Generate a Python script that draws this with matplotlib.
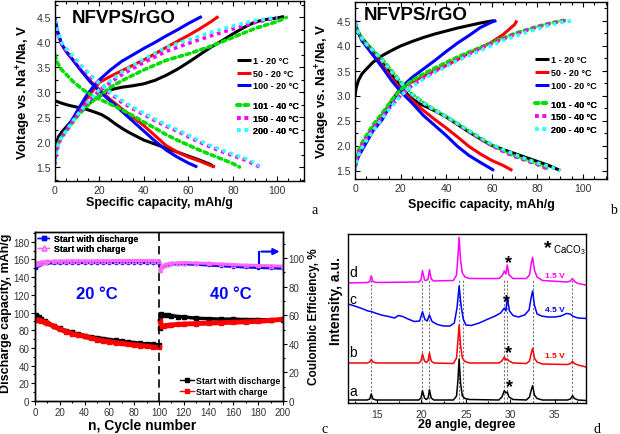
import matplotlib
matplotlib.use('Agg')
import matplotlib.pyplot as plt
from matplotlib.ticker import MultipleLocator
from matplotlib.lines import Line2D

plt.rcParams['font.family'] = ['Liberation Sans', 'DejaVu Sans']
plt.rcParams['mathtext.fontset'] = 'custom'
plt.rcParams['mathtext.rm'] = 'Liberation Sans'
plt.rcParams['mathtext.bf'] = 'Liberation Sans:bold'
plt.rcParams['mathtext.it'] = 'Liberation Sans:italic'

# ---------------- panel a : voltage profiles (start with discharge) ----------------
a_1_ch_cap = [0, 0.5, 1.5, 3, 5, 8, 10, 13, 16, 20, 23, 26, 30, 35, 40, 45, 50, 55, 60, 65, 70, 75, 80, 85, 90, 95, 100, 103]
a_1_ch_v = [1.75, 1.95, 2.1, 2.2, 2.3, 2.45, 2.55, 2.68, 2.8, 2.92, 3.0, 3.06, 3.1, 3.13, 3.17, 3.24, 3.34, 3.46, 3.6, 3.75, 3.9, 4.03, 4.17, 4.3, 4.41, 4.46, 4.49, 4.52]
a_1_dis_cap = [0, 3, 6, 10, 14, 18, 21, 24, 27, 30, 33, 36, 40, 45, 50, 55, 60, 65, 70, 71.5]
a_1_dis_v = [2.83, 2.78, 2.74, 2.7, 2.66, 2.6, 2.55, 2.47, 2.37, 2.28, 2.2, 2.13, 2.04, 1.96, 1.88, 1.8, 1.72, 1.64, 1.55, 1.5]
a_50_ch_cap = [0, 0.5, 1.5, 3, 5, 8, 11, 14, 17, 20, 25, 30, 35, 40, 45, 50, 55, 60, 65, 70, 73.5]
a_50_ch_v = [1.6, 1.85, 2.0, 2.12, 2.25, 2.45, 2.65, 2.85, 3.03, 3.2, 3.32, 3.43, 3.54, 3.65, 3.77, 3.9, 4.02, 4.14, 4.27, 4.41, 4.52]
a_50_dis_cap = [0, 1, 3, 5, 8, 12, 16, 20, 25, 30, 35, 40, 45, 50, 55, 60, 65, 70, 72]
a_50_dis_v = [4.45, 4.2, 3.95, 3.82, 3.65, 3.42, 3.22, 3.05, 2.85, 2.67, 2.5, 2.33, 2.13, 1.93, 1.8, 1.7, 1.62, 1.53, 1.5]
a_100_ch_cap = [0, 0.5, 1.5, 3, 5, 8, 11, 14, 17, 20, 25, 30, 35, 40, 45, 50, 55, 60, 66]
a_100_ch_v = [1.6, 1.85, 2.0, 2.12, 2.25, 2.47, 2.7, 2.92, 3.1, 3.25, 3.45, 3.62, 3.75, 3.88, 4.0, 4.13, 4.25, 4.38, 4.52]
a_100_dis_cap = [0, 1, 3, 5, 8, 12, 16, 20, 25, 30, 35, 40, 45, 50, 55, 60, 64]
a_100_dis_v = [4.5, 4.25, 3.97, 3.82, 3.65, 3.42, 3.2, 3.02, 2.82, 2.62, 2.42, 2.22, 2.02, 1.84, 1.7, 1.58, 1.5]
a_101_ch_cap = [0, 0.5, 1.5, 3, 5, 8, 11, 15, 20, 25, 30, 40, 50, 60, 70, 80, 90, 100, 104]
a_101_ch_v = [1.7, 1.85, 1.98, 2.1, 2.22, 2.4, 2.57, 2.75, 2.93, 3.1, 3.23, 3.45, 3.64, 3.77, 3.92, 4.1, 4.28, 4.42, 4.5]
a_101_dis_cap = [0, 1, 3, 5, 8, 12, 16, 20, 25, 30, 35, 40, 45, 50, 55, 60, 65, 70, 75, 80, 83]
a_101_dis_v = [3.75, 3.6, 3.45, 3.36, 3.22, 3.07, 2.95, 2.86, 2.76, 2.65, 2.53, 2.4, 2.28, 2.15, 2.04, 1.94, 1.84, 1.75, 1.66, 1.57, 1.5]
a_150_ch_cap = [0, 0.5, 1.5, 3, 5, 8, 11, 15, 20, 25, 30, 40, 50, 60, 70, 80, 90, 100]
a_150_ch_v = [1.55, 1.75, 1.95, 2.1, 2.22, 2.42, 2.6, 2.82, 3.03, 3.2, 3.35, 3.6, 3.82, 3.98, 4.13, 4.27, 4.4, 4.5]
a_150_dis_cap = [0, 1, 3, 5, 8, 12, 16, 20, 25, 30, 35, 40, 45, 50, 55, 60, 65, 70, 75, 80, 85, 90, 92]
a_150_dis_v = [4.45, 4.2, 3.97, 3.85, 3.7, 3.5, 3.32, 3.15, 2.97, 2.8, 2.67, 2.55, 2.43, 2.32, 2.22, 2.11, 2.0, 1.9, 1.81, 1.73, 1.65, 1.55, 1.5]
a_200_ch_cap = [0, 0.5, 1.5, 3, 5, 8, 11, 15, 20, 25, 30, 40, 50, 60, 70, 80, 90, 100]
a_200_ch_v = [1.6, 1.78, 1.97, 2.1, 2.22, 2.42, 2.6, 2.82, 3.05, 3.23, 3.4, 3.67, 3.9, 4.05, 4.2, 4.33, 4.44, 4.5]
a_200_dis_cap = [0, 1, 3, 5, 8, 12, 16, 20, 25, 30, 35, 40, 45, 50, 55, 60, 65, 70, 75, 80, 85, 90, 92]
a_200_dis_v = [4.45, 4.22, 4.0, 3.88, 3.73, 3.53, 3.35, 3.18, 3.0, 2.84, 2.7, 2.58, 2.46, 2.35, 2.25, 2.14, 2.03, 1.93, 1.84, 1.76, 1.68, 1.58, 1.52]

# ---------------- panel b : voltage profiles (start with charge) ----------------
b_1_ch_cap = [0, 0.5, 1.5, 3, 5, 8, 12, 16, 20, 25, 30, 35, 40, 45, 50, 55, 60, 61]
b_1_ch_v = [2.98, 3.15, 3.3, 3.43, 3.53, 3.67, 3.8, 3.9, 3.99, 4.08, 4.16, 4.23, 4.29, 4.35, 4.4, 4.45, 4.49, 4.5]
b_1_dis_cap = [0, 1, 3, 5, 8, 12, 16, 20, 24, 28, 32, 36, 40, 45, 50, 55, 60, 65, 70, 75, 80, 85, 90]
b_1_dis_v = [4.45, 4.3, 4.15, 4.05, 3.88, 3.65, 3.42, 3.18, 2.97, 2.84, 2.76, 2.67, 2.57, 2.42, 2.27, 2.13, 2.0, 1.92, 1.84, 1.76, 1.68, 1.6, 1.5]
b_50_ch_cap = [0, 0.5, 1.5, 3, 5, 8, 12, 16, 20, 25, 30, 35, 40, 45, 50, 55, 60, 65, 70, 71]
b_50_ch_v = [1.55, 1.68, 1.8, 1.95, 2.1, 2.35, 2.6, 2.9, 3.15, 3.27, 3.38, 3.5, 3.6, 3.72, 3.85, 3.95, 4.07, 4.22, 4.42, 4.5]
b_50_dis_cap = [0, 1, 3, 5, 8, 12, 16, 20, 25, 30, 35, 40, 45, 50, 55, 60, 65, 69]
b_50_dis_v = [4.45, 4.3, 4.12, 4.0, 3.83, 3.6, 3.35, 3.12, 2.9, 2.7, 2.52, 2.35, 2.17, 1.98, 1.83, 1.7, 1.6, 1.5]
b_100_ch_cap = [0, 0.5, 1.5, 3, 5, 8, 12, 16, 20, 25, 30, 35, 40, 45, 50, 55, 60, 62]
b_100_ch_v = [1.5, 1.65, 1.78, 1.9, 2.06, 2.3, 2.52, 2.85, 3.15, 3.36, 3.53, 3.7, 3.88, 4.05, 4.2, 4.36, 4.47, 4.5]
b_100_dis_cap = [0, 1, 3, 5, 8, 12, 16, 20, 25, 30, 35, 40, 45, 50, 55, 58, 61]
b_100_dis_v = [4.5, 4.3, 4.1, 3.98, 3.8, 3.56, 3.3, 3.08, 2.85, 2.6, 2.4, 2.2, 1.98, 1.8, 1.66, 1.58, 1.5]
b_40c_ch_cap = [0, 0.5, 1.5, 3, 5, 8, 12, 16, 20, 25, 30, 35, 40, 45, 50, 55, 60, 65, 70, 75, 80, 85, 90, 92]
b_101_ch_v = [1.6, 1.75, 1.9, 2.05, 2.2, 2.42, 2.65, 2.9, 3.12, 3.3, 3.43, 3.55, 3.66, 3.77, 3.87, 3.96, 4.06, 4.15, 4.24, 4.31, 4.38, 4.44, 4.49, 4.5]
b_150_ch_v = [1.55, 1.7, 1.85, 2.0, 2.15, 2.35, 2.58, 2.8, 3.0, 3.2, 3.35, 3.48, 3.6, 3.72, 3.83, 3.94, 4.04, 4.13, 4.22, 4.3, 4.37, 4.43, 4.48, 4.5]
b_200_ch_cap = [0, 0.5, 1.5, 3, 5, 8, 12, 16, 20, 25, 30, 35, 40, 45, 50, 55, 60, 65, 70, 75, 80, 85, 90, 96]
b_200_ch_v = [1.5, 1.65, 1.8, 1.95, 2.1, 2.3, 2.55, 2.78, 3.0, 3.18, 3.33, 3.46, 3.58, 3.7, 3.8, 3.9, 4.0, 4.1, 4.18, 4.26, 4.33, 4.4, 4.46, 4.5]
b_40c_dis_cap = [0, 1, 3, 5, 8, 12, 16, 20, 25, 30, 35, 40, 45, 50, 55, 60, 65, 70, 75, 80, 85]
b_101_dis_v = [4.45, 4.3, 4.15, 4.03, 3.9, 3.72, 3.5, 3.27, 3.03, 2.86, 2.71, 2.58, 2.44, 2.29, 2.14, 2.01, 1.89, 1.79, 1.71, 1.63, 1.53]
b_150_dis_v = [4.45, 4.3, 4.15, 4.03, 3.9, 3.7, 3.48, 3.25, 3.02, 2.85, 2.7, 2.57, 2.43, 2.28, 2.13, 2.0, 1.88, 1.78, 1.7, 1.62, 1.52]
b_200_dis_cap = [0, 1, 3, 5, 8, 12, 16, 20, 25, 30, 35, 40, 45, 50, 55, 60, 65, 70, 75, 80, 85, 90]
b_200_dis_v = [4.45, 4.3, 4.15, 4.03, 3.9, 3.7, 3.48, 3.26, 3.03, 2.86, 2.71, 2.58, 2.44, 2.3, 2.16, 2.03, 1.92, 1.82, 1.73, 1.65, 1.58, 1.5]

# ---------------- panel c : cycling ----------------
cyc_20 = [1, 2, 3, 5, 8, 10, 15, 20, 25, 30, 35, 40, 45, 50, 55, 60, 65, 70, 75, 80, 85, 90, 95, 100]
cap_dis_start_20 = [97, 95.5, 94.5, 92.5, 90, 88.5, 85, 82, 79.5, 77.5, 75.5, 74, 72.5, 71.5, 70.5, 69.5, 68.5, 67.5, 66.5, 66, 65, 64.5, 64, 63.5]
cap_ch_start_20 = [92, 91.5, 91, 90.5, 89, 88, 84.5, 81, 78.5, 76, 74.5, 73, 71, 69.5, 68, 67, 66, 65, 64, 63.5, 62.5, 62, 61, 60.5]
ce_dis_start_20 = [93, 94.5, 95.3, 96, 96.3, 96.4, 96.5, 96.6, 96.7, 96.7, 96.7, 96.7, 96.7, 96.7, 96.7, 96.7, 96.7, 96.7, 96.7, 96.7, 96.7, 96.7, 96.6, 96.5]
ce_ch_start_20 = [95.5, 96.3, 96.8, 97.2, 97.5, 97.6, 97.8, 97.9, 98, 98, 98, 98, 98, 98.1, 98.1, 98.1, 98.2, 98.2, 98.2, 98.2, 98.2, 98.2, 98.1, 98]
cyc_40 = [101, 102, 104, 107, 110, 115, 120, 130, 140, 150, 160, 170, 180, 190, 200]
cap_dis_start_40 = [83, 98, 97.5, 97, 96.5, 95.5, 95, 93.5, 93, 92.5, 92.5, 92, 92, 91.5, 91.5]
cap_ch_start_40 = [90, 84.5, 85, 85.5, 86, 86.5, 87, 87.5, 88, 88.5, 89, 89.5, 90, 91, 92.5]
ce_dis_start_40 = [92, 93.5, 94.5, 95.2, 95.6, 95.8, 95.8, 95.5, 95, 94.5, 94, 93.6, 93.3, 93, 92.8]
ce_ch_start_40 = [91.5, 93.5, 95, 96, 96.3, 96.6, 96.8, 96.5, 96.2, 95.8, 95.4, 95, 94.8, 94.5, 94.3]

# ---------------- panel d : XRD ----------------
tt = [11.75, 13.9, 14.2, 14.36, 14.55, 14.9, 19.7, 19.95, 20.12, 20.35, 20.55, 20.75, 20.9, 21.1, 21.4,
      23.6, 23.95, 24.1, 24.24, 24.4, 24.6, 24.9, 25.4, 28.7, 29.05, 29.32, 29.5, 29.65, 29.85, 30.3,
      31.8, 32.15, 32.35, 32.5, 32.7, 33.0, 33.6, 36.4, 36.75, 36.98, 37.2, 37.6, 38.5]
xrd_a = [3, 3, 4, 9, 4, 3, 3, 5, 12.3, 5, 3.5, 5, 13.3, 5, 3,
         3, 7, 22, 44, 20, 7, 4.5, 3.5, 3, 6, 12.3, 10, 11, 6, 3.5,
         3, 6, 13, 17.3, 8, 4.5, 3, 3, 4, 7.3, 4.5, 3, 2.5]
xrd_b = [40, 40, 41, 43.5, 41, 40, 40, 42, 49, 42, 40.5, 42, 50, 42, 40,
         39.5, 45, 62, 78, 58, 45, 41.5, 40, 40, 42, 46, 43, 44, 42, 40,
         39.5, 42, 50, 54.7, 45, 41, 39, 38.5, 39.5, 41.5, 39.5, 38, 36]
xrd_d = [120, 120.5, 121.5, 127.3, 121.5, 120.5, 121, 123, 132.3, 123, 122.5, 124, 133.3, 124, 122,
         122.5, 128, 146, 165.7, 143, 130, 126, 124.5, 124.5, 127, 132, 129, 138, 128, 124.5,
         124.5, 128, 140, 145.7, 133, 126, 122.5, 121, 122, 124.5, 121.5, 119.5, 118]
tt_c = [11.75, 12.5, 13.3, 14.0, 14.36, 14.8, 15.5, 16.3, 17.0, 17.4, 17.9, 18.5, 19.2, 19.8, 20.12, 20.4, 20.65, 20.9,
        21.2, 21.8, 22.5, 23.2, 23.7, 24.0, 24.24, 24.45, 24.7, 25.0, 25.6, 26.5, 27.5, 28.3, 28.9, 29.32, 29.5, 29.65,
        29.9, 30.3, 30.9, 31.6, 32.1, 32.35, 32.5, 32.7, 33.0, 33.5, 34.2, 35.0, 35.7, 36.3, 36.7, 37.1, 37.6, 38.5]
xrd_c = [99, 97, 94.5, 92, 91.5, 90, 88, 86.5, 85, 87.5, 86.5, 84, 81.5, 82, 91.3, 83.5, 82, 88,
         81.5, 78.5, 77, 77, 80, 95, 117, 98, 84, 78, 77.5, 80, 84, 87, 90, 95, 92, 105.7,
         92, 87.5, 86, 88, 93, 106, 112, 98, 89, 87, 86, 86, 87, 89.5, 89, 86.5, 85, 84.5]
peak_lines = [14.36, 20.12, 20.9, 24.24, 24.72, 29.32, 29.65, 32.5, 36.98]

labels_20 = ['1 - 20 °C', '50 - 20 °C', '100 - 20 °C']
labels_40 = ['101 - 40 °C', '150 - 40 °C', '200 - 40 °C']

solid = dict(lw=2.2, solid_capstyle='butt')
dotted = dict(lw=2.6, ls=(0, (1, 1.1)))
styles = {
    '1 - 20 °C': dict(color='k', **solid),
    '50 - 20 °C': dict(color='#ff0000', **solid),
    '100 - 20 °C': dict(color='#0000ff', **solid),
    '101 - 40 °C': dict(color='#00dd00', dash_capstyle='round', **dotted),
    '150 - 40 °C': dict(color='#ff00ff', **dotted),
    '200 - 40 °C': dict(color='#33ffff', **dotted),
}

fig = plt.figure(figsize=(6.2, 4.35), dpi=100)


def voltage_panel(ax, curves, title_x, title_y, leg_x, leg1_y, leg2_y, ylim, xlim):
    for name in labels_20 + labels_40:
        cap_ch, v_ch, cap_dis, v_dis = curves[name]
        ax.plot(cap_ch, v_ch, **styles[name])
        ax.plot(cap_dis, v_dis, **styles[name])
    ax.set_xlim(*xlim)
    ax.set_ylim(*ylim)
    ax.xaxis.set_major_locator(MultipleLocator(20))
    ax.xaxis.set_minor_locator(MultipleLocator(5))
    ax.yaxis.set_major_locator(MultipleLocator(0.5))
    ax.yaxis.set_minor_locator(MultipleLocator(0.25))
    ax.tick_params(which='both', direction='in', top=True, right=True, labelsize=7.5,
                   labelcolor='#333333', width=0.8, pad=3)
    ax.tick_params(which='major', length=3.5)
    ax.tick_params(which='minor', length=2)
    ax.set_xlabel('Specific capacity, mAh/g', fontsize=9, fontweight='bold')
    ax.set_ylabel('Voltage vs. Na$^{\\mathbf{+}}$/Na, V', fontsize=9.5, fontweight='bold')
    ax.text(title_x, title_y, 'NFVPS/rGO', transform=ax.transAxes, fontsize=13.5,
            fontweight='bold', ha='left', va='center')
    for labs, ly in ((labels_20, leg1_y), (labels_40, leg2_y)):
        hs = [Line2D([], [], **styles[n]) for n in labs]
        leg = ax.legend(hs, labs, loc='upper left', bbox_to_anchor=(leg_x, ly), frameon=False,
                        borderpad=0, borderaxespad=0, handlelength=1.6, handletextpad=0.15,
                        labelspacing=0.4, prop=dict(size=6.5, weight='bold'))
        ax.add_artist(leg)
    for s in ax.spines.values():
        s.set_linewidth(1)


# panel a
ax_a = fig.add_axes([55 / 620, 1 - 182 / 435, 249 / 620, 180 / 435])
curves_a = {
    '1 - 20 °C': (a_1_ch_cap, a_1_ch_v, a_1_dis_cap, a_1_dis_v),
    '50 - 20 °C': (a_50_ch_cap, a_50_ch_v, a_50_dis_cap, a_50_dis_v),
    '100 - 20 °C': (a_100_ch_cap, a_100_ch_v, a_100_dis_cap, a_100_dis_v),
    '101 - 40 °C': (a_101_ch_cap, a_101_ch_v, a_101_dis_cap, a_101_dis_v),
    '150 - 40 °C': (a_150_ch_cap, a_150_ch_v, a_150_dis_cap, a_150_dis_v),
    '200 - 40 °C': (a_200_ch_cap, a_200_ch_v, a_200_dis_cap, a_200_dis_v),
}
voltage_panel(ax_a, curves_a, 0.068, 0.91, 0.73, 0.694, 0.444, (1.22, 4.83), (0, 112))
ax_a.xaxis.set_label_coords(0.42, -0.085)
ax_a.yaxis.set_label_coords(-0.09, 0.5)

# panel b
ax_b = fig.add_axes([355 / 620, 1 - 180 / 435, 252 / 620, 177 / 435])
curves_b = {
    '1 - 20 °C': (b_1_ch_cap, b_1_ch_v, b_1_dis_cap, b_1_dis_v),
    '50 - 20 °C': (b_50_ch_cap, b_50_ch_v, b_50_dis_cap, b_50_dis_v),
    '100 - 20 °C': (b_100_ch_cap, b_100_ch_v, b_100_dis_cap, b_100_dis_v),
    '101 - 40 °C': (b_40c_ch_cap, b_101_ch_v, b_40c_dis_cap, b_101_dis_v),
    '150 - 40 °C': (b_40c_ch_cap, b_150_ch_v, b_40c_dis_cap, b_150_dis_v),
    '200 - 40 °C': (b_200_ch_cap, b_200_ch_v, b_200_dis_cap, b_200_dis_v),
}
voltage_panel(ax_b, curves_b, 0.033, 0.932, 0.714, 0.698, 0.449, (1.33, 4.87), (0, 110.5))
ax_b.xaxis.set_label_coords(0.5, -0.11)
ax_b.yaxis.set_label_coords(-0.092, 0.5)

# panel c
ax_c = fig.add_axes([35 / 620, 1 - 402 / 435, 248 / 620, 169 / 435])
ax_c2 = ax_c.twinx()
ax_c.plot(cyc_20, cap_dis_start_20, color='k', marker='s', ms=2.5, lw=2.5)
ax_c.plot(cyc_40, cap_dis_start_40, color='k', marker='s', ms=2.5, lw=2.5)
ax_c.plot(cyc_20, cap_ch_start_20, color='#ff0000', marker='s', ms=3, lw=3.5)
ax_c.plot(cyc_40, cap_ch_start_40, color='#ff0000', marker='s', ms=3, lw=3.5)
ax_c2.plot(cyc_20, ce_dis_start_20, color='#0000ff', marker='s', ms=2, lw=2)
ax_c2.plot(cyc_40, ce_dis_start_40, color='#0000ff', marker='s', ms=2, lw=2)
ax_c2.plot(cyc_20, ce_ch_start_20, color='#ff66ff', marker='^', ms=3, mfc='none', lw=2.2)
ax_c2.plot(cyc_40, ce_ch_start_40, color='#ff66ff', marker='^', ms=3, mfc='none', lw=2.2)
ax_c.axvline(100, color='k', lw=1.2, ls=(0, (5, 3)))
ax_c.set_xlim(0, 200)
ax_c.set_ylim(0, 191)
ax_c2.set_ylim(0, 118.2)
ax_c.xaxis.set_major_locator(MultipleLocator(20))
ax_c.xaxis.set_minor_locator(MultipleLocator(10))
ax_c.yaxis.set_major_locator(MultipleLocator(20))
ax_c.yaxis.set_minor_locator(MultipleLocator(10))
ax_c2.yaxis.set_major_locator(MultipleLocator(20))
ax_c2.yaxis.set_minor_locator(MultipleLocator(10))
for axx in (ax_c, ax_c2):
    axx.tick_params(which='both', direction='out', labelsize=7, labelcolor='#333333', width=0.8, pad=1)
    axx.tick_params(which='major', length=3)
    axx.tick_params(which='minor', length=1.5)
    for s in axx.spines.values():
        s.set_linewidth(1)
ax_c.set_xlabel('n, Cycle number', fontsize=10, fontweight='bold')
ax_c.set_ylabel('Discharge capacity, mAh/g', fontsize=9, fontweight='bold')
ax_c.xaxis.set_label_coords(0.43, -0.1)
ax_c.yaxis.set_label_coords(-0.092, 0.525)
fig.text(314 / 620, 1 - 317 / 435, 'Coulombic Efficiency, %', rotation=90, ha='center', va='center',
         fontsize=8.5, fontweight='bold')
ax_c.text(50, 121, '20 °C', color='#0000ff', fontsize=12, fontweight='bold', ha='center', va='center')
ax_c.text(158, 121, '40 °C', color='#0000ff', fontsize=12, fontweight='bold', ha='center', va='center')
ax_c2.plot([181, 181], [96.8, 104.5], color='#0000ff', lw=1.5)
ax_c2.annotate('', xy=(199.5, 104.5), xytext=(180.3, 104.5),
               arrowprops=dict(arrowstyle='-|>', color='#0000ff', lw=1.5, mutation_scale=9))
top_h = [Line2D([], [], color='#0000ff', marker='s', ms=3, lw=1, ls='--'),
         Line2D([], [], color='#ff66ff', marker='^', ms=3.5, mfc='none', lw=1, ls='--')]
leg_top = ax_c.legend(top_h, ['Start with discharge', 'Start with charge'], loc='upper left',
                      bbox_to_anchor=(0.01, 0.99), frameon=False, borderpad=0, borderaxespad=0,
                      handlelength=1.6, handletextpad=0.3, labelspacing=0.2, prop=dict(size=6.3, weight='bold'))
ax_c.add_artist(leg_top)
bot_h = [Line2D([], [], color='k', marker='s', ms=3, lw=1),
         Line2D([], [], color='#ff0000', marker='s', ms=3, lw=1)]
ax_c2.legend(bot_h, ['Start with discharge', 'Start with charge'], loc='lower right',
             bbox_to_anchor=(0.99, 0.03), frameon=False, borderpad=0, borderaxespad=0,
             handlelength=1.6, handletextpad=0.3, labelspacing=0.2, prop=dict(size=6.3, weight='bold'))

# panel d
ax_d = fig.add_axes([348 / 620, 1 - 404 / 435, 238 / 620, 169 / 435])
ax_d.vlines(peak_lines, 0, 123, colors='#777777', lw=0.8, linestyles=(0, (2, 1.5)))
ax_d.plot(tt, xrd_a, color='k', lw=1.1)
ax_d.plot(tt, xrd_b, color='#ff0000', lw=1.1)
ax_d.plot(tt_c, xrd_c, color='#0000ff', lw=1.1)
ax_d.plot(tt, xrd_d, color='#ff00ff', lw=1.1)
ax_d.set_xlim(11.75, 38.5)
ax_d.set_ylim(0, 169)
ax_d.set_yticks([])
ax_d.xaxis.set_major_locator(MultipleLocator(5))
ax_d.xaxis.set_minor_locator(MultipleLocator(2.5))
ax_d.tick_params(which='both', direction='in', labelsize=7.5, labelcolor='#333333', width=0.8, pad=4)
ax_d.tick_params(which='major', length=3)
ax_d.tick_params(which='minor', length=1.5)
for s in ax_d.spines.values():
    s.set_linewidth(1)
ax_d.set_xlabel('2θ angle, degree', fontsize=9, fontweight='bold')
ax_d.xaxis.set_label_coords(0.5, -0.09)
ax_d.set_ylabel('Intensity, a.u.', fontsize=10, fontweight='bold')
ax_d.yaxis.set_label_coords(-0.02, 0.61)
for lab, yy in (('a', 12.3), ('b', 51), ('c', 104), ('d', 130.7)):
    ax_d.text(12.35, yy, lab, fontsize=10, ha='center', va='center')
ax_d.text(35.0, 127, '1.5 V', color='#ff00ff', fontsize=6, fontweight='bold', ha='center', va='center')
ax_d.text(35.0, 94, '4.5 V', color='#0000ff', fontsize=6, fontweight='bold', ha='center', va='center')
ax_d.text(35.0, 48, '1.5 V', color='#ff0000', fontsize=6, fontweight='bold', ha='center', va='center')
for ax_x, ay in ((29.76, 142), (29.6, 103), (29.76, 52), (29.9, 18)):
    ax_d.text(ax_x, ay, '*', fontsize=13, fontweight='bold', ha='center', va='center_baseline')
ax_d.text(34.25, 157, '*', fontsize=14, fontweight='bold', ha='center', va='center_baseline')
ax_d.text(34.75, 154, 'CaCO$_3$', fontsize=7, ha='left', va='center')

# panel letters
serif = ['Liberation Serif', 'DejaVu Serif']
for lab, px, py in (('a', 315, 210), ('b', 613, 210), ('c', 325, 430), ('d', 597, 430)):
    fig.text(px / 620, 1 - py / 435, lab, fontsize=10, family=serif, ha='center', va='center')

fig.savefig('out.png', dpi=100)
